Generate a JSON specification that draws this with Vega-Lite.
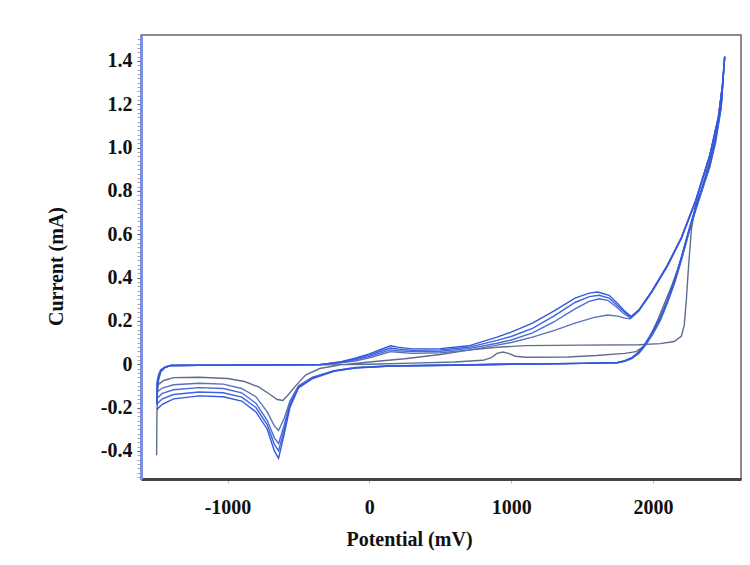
{
"$schema":"https://vega.github.io/schema/vega-lite/v6.json",
"width":600,"height":444,
"autosize":{"type":"none"},
"padding":{"left":141,"top":35,"right":9,"bottom":86},
"background":"white",
"config":{"view":{"stroke":"#666","strokeWidth":1.5},"font":"Liberation Serif"},
"data":{"values":[
{"c":"1","v":-1500,"i":-0.42},{"c":"1","v":-1498,"i":-0.25},{"c":"1","v":-1494,"i":-0.13},{"c":"1","v":-1485,"i":-0.07},{"c":"1","v":-1470,"i":-0.035},{"c":"1","v":-1440,"i":-0.015},{"c":"1","v":-1400,"i":-0.006},{"c":"1","v":-1000,"i":-0.004},{"c":"1","v":-600,"i":-0.004},{"c":"1","v":-300,"i":-0.003},{"c":"1","v":0,"i":0.0},{"c":"1","v":300,"i":0.005},{"c":"1","v":600,"i":0.01},{"c":"1","v":800,"i":0.018},{"c":"1","v":860,"i":0.03},{"c":"1","v":900,"i":0.05},{"c":"1","v":940,"i":0.056},{"c":"1","v":980,"i":0.05},{"c":"1","v":1030,"i":0.037},{"c":"1","v":1100,"i":0.032},{"c":"1","v":1400,"i":0.033},{"c":"1","v":1600,"i":0.04},{"c":"1","v":1800,"i":0.05},{"c":"1","v":1880,"i":0.058},{"c":"1","v":1930,"i":0.08},{"c":"1","v":1980,"i":0.13},{"c":"1","v":2030,"i":0.2},{"c":"1","v":2080,"i":0.28},{"c":"1","v":2130,"i":0.36},{"c":"1","v":2180,"i":0.45},{"c":"1","v":2230,"i":0.56},{"c":"1","v":2280,"i":0.67},{"c":"1","v":2330,"i":0.78},{"c":"1","v":2380,"i":0.89},{"c":"1","v":2430,"i":1.01},{"c":"1","v":2465,"i":1.15},{"c":"1","v":2490,"i":1.3},{"c":"1","v":2505,"i":1.42},
{"c":"1","v":2480,"i":1.2},{"c":"1","v":2440,"i":1.04},{"c":"1","v":2390,"i":0.92},{"c":"1","v":2340,"i":0.8},{"c":"1","v":2300,"i":0.74},{"c":"1","v":2270,"i":0.62},{"c":"1","v":2250,"i":0.45},{"c":"1","v":2235,"i":0.3},{"c":"1","v":2220,"i":0.18},{"c":"1","v":2200,"i":0.13},{"c":"1","v":2150,"i":0.105},{"c":"1","v":2050,"i":0.095},{"c":"1","v":1900,"i":0.09},{"c":"1","v":1500,"i":0.088},{"c":"1","v":1100,"i":0.086},{"c":"1","v":900,"i":0.078},{"c":"1","v":700,"i":0.065},{"c":"1","v":500,"i":0.045},{"c":"1","v":250,"i":0.025},{"c":"1","v":0,"i":0.01},{"c":"1","v":-200,"i":-0.003},{"c":"1","v":-350,"i":-0.02},{"c":"1","v":-450,"i":-0.05},{"c":"1","v":-520,"i":-0.1},{"c":"1","v":-570,"i":-0.14},{"c":"1","v":-610,"i":-0.167},{"c":"1","v":-650,"i":-0.163},{"c":"1","v":-700,"i":-0.14},{"c":"1","v":-780,"i":-0.105},{"c":"1","v":-880,"i":-0.08},{"c":"1","v":-1000,"i":-0.066},{"c":"1","v":-1200,"i":-0.06},{"c":"1","v":-1380,"i":-0.062},{"c":"1","v":-1450,"i":-0.075},{"c":"1","v":-1500,"i":-0.1},
{"c":"2","v":-1500,"i":-0.1},{"c":"2","v":-1494,"i":-0.07},{"c":"2","v":-1485,"i":-0.045},{"c":"2","v":-1470,"i":-0.025},{"c":"2","v":-1440,"i":-0.012},{"c":"2","v":-1400,"i":-0.006},{"c":"2","v":-1000,"i":-0.004},{"c":"2","v":-600,"i":-0.003},{"c":"2","v":-350,"i":-0.002},{"c":"2","v":-200,"i":0.006},{"c":"2","v":-100,"i":0.015},{"c":"2","v":0,"i":0.03},{"c":"2","v":80,"i":0.045},{"c":"2","v":150,"i":0.058},{"c":"2","v":200,"i":0.055},{"c":"2","v":300,"i":0.05},{"c":"2","v":500,"i":0.053},{"c":"2","v":700,"i":0.065},{"c":"2","v":900,"i":0.088},{"c":"2","v":1000,"i":0.1},{"c":"2","v":1150,"i":0.125},{"c":"2","v":1300,"i":0.155},{"c":"2","v":1450,"i":0.19},{"c":"2","v":1580,"i":0.215},{"c":"2","v":1680,"i":0.227},{"c":"2","v":1750,"i":0.222},{"c":"2","v":1800,"i":0.213},{"c":"2","v":1840,"i":0.21},{"c":"2","v":1900,"i":0.245},{"c":"2","v":1990,"i":0.33},{"c":"2","v":2100,"i":0.45},{"c":"2","v":2200,"i":0.58},{"c":"2","v":2300,"i":0.75},{"c":"2","v":2400,"i":0.96},{"c":"2","v":2460,"i":1.13},{"c":"2","v":2490,"i":1.28},{"c":"2","v":2505,"i":1.42},
{"c":"2","v":2480,"i":1.18},{"c":"2","v":2440,"i":1.02},{"c":"2","v":2400,"i":0.91},{"c":"2","v":2300,"i":0.71},{"c":"2","v":2250,"i":0.6},{"c":"2","v":2200,"i":0.48},{"c":"2","v":2150,"i":0.37},{"c":"2","v":2100,"i":0.28},{"c":"2","v":2050,"i":0.2},{"c":"2","v":2000,"i":0.14},{"c":"2","v":1950,"i":0.09},{"c":"2","v":1900,"i":0.05},{"c":"2","v":1850,"i":0.026},{"c":"2","v":1800,"i":0.013},{"c":"2","v":1750,"i":0.007},{"c":"2","v":1500,"i":0.004},{"c":"2","v":1000,"i":0.001},{"c":"2","v":500,"i":-0.004},{"c":"2","v":150,"i":-0.007},{"c":"2","v":-100,"i":-0.015},{"c":"2","v":-250,"i":-0.03},{"c":"2","v":-400,"i":-0.06},{"c":"2","v":-500,"i":-0.1},{"c":"2","v":-560,"i":-0.17},{"c":"2","v":-600,"i":-0.25},{"c":"2","v":-640,"i":-0.306},{"c":"2","v":-670,"i":-0.285},{"c":"2","v":-720,"i":-0.22},{"c":"2","v":-800,"i":-0.15},{"c":"2","v":-900,"i":-0.112},{"c":"2","v":-1030,"i":-0.092},{"c":"2","v":-1200,"i":-0.088},{"c":"2","v":-1380,"i":-0.095},{"c":"2","v":-1460,"i":-0.11},{"c":"2","v":-1500,"i":-0.13},
{"c":"3","v":-1500,"i":-0.13},{"c":"3","v":-1494,"i":-0.08},{"c":"3","v":-1485,"i":-0.05},{"c":"3","v":-1470,"i":-0.027},{"c":"3","v":-1440,"i":-0.013},{"c":"3","v":-1400,"i":-0.006},{"c":"3","v":-1000,"i":-0.004},{"c":"3","v":-600,"i":-0.003},{"c":"3","v":-350,"i":-0.002},{"c":"3","v":-200,"i":0.008},{"c":"3","v":-100,"i":0.02},{"c":"3","v":0,"i":0.036},{"c":"3","v":80,"i":0.052},{"c":"3","v":150,"i":0.066},{"c":"3","v":200,"i":0.062},{"c":"3","v":300,"i":0.058},{"c":"3","v":500,"i":0.06},{"c":"3","v":700,"i":0.072},{"c":"3","v":900,"i":0.097},{"c":"3","v":1000,"i":0.112},{"c":"3","v":1150,"i":0.145},{"c":"3","v":1300,"i":0.195},{"c":"3","v":1450,"i":0.255},{"c":"3","v":1550,"i":0.29},{"c":"3","v":1620,"i":0.302},{"c":"3","v":1680,"i":0.295},{"c":"3","v":1740,"i":0.265},{"c":"3","v":1790,"i":0.235},{"c":"3","v":1840,"i":0.215},{"c":"3","v":1900,"i":0.25},{"c":"3","v":1990,"i":0.335},{"c":"3","v":2100,"i":0.455},{"c":"3","v":2200,"i":0.585},{"c":"3","v":2300,"i":0.755},{"c":"3","v":2400,"i":0.965},{"c":"3","v":2460,"i":1.14},{"c":"3","v":2490,"i":1.29},{"c":"3","v":2505,"i":1.42},
{"c":"3","v":2480,"i":1.19},{"c":"3","v":2440,"i":1.03},{"c":"3","v":2400,"i":0.915},{"c":"3","v":2300,"i":0.715},{"c":"3","v":2250,"i":0.605},{"c":"3","v":2200,"i":0.485},{"c":"3","v":2150,"i":0.375},{"c":"3","v":2100,"i":0.285},{"c":"3","v":2050,"i":0.205},{"c":"3","v":2000,"i":0.145},{"c":"3","v":1950,"i":0.094},{"c":"3","v":1900,"i":0.053},{"c":"3","v":1850,"i":0.028},{"c":"3","v":1800,"i":0.014},{"c":"3","v":1750,"i":0.007},{"c":"3","v":1500,"i":0.004},{"c":"3","v":1000,"i":0.0},{"c":"3","v":500,"i":-0.005},{"c":"3","v":150,"i":-0.008},{"c":"3","v":-100,"i":-0.016},{"c":"3","v":-250,"i":-0.031},{"c":"3","v":-400,"i":-0.062},{"c":"3","v":-500,"i":-0.105},{"c":"3","v":-560,"i":-0.18},{"c":"3","v":-600,"i":-0.28},{"c":"3","v":-640,"i":-0.366},{"c":"3","v":-670,"i":-0.34},{"c":"3","v":-720,"i":-0.26},{"c":"3","v":-800,"i":-0.18},{"c":"3","v":-900,"i":-0.132},{"c":"3","v":-1030,"i":-0.112},{"c":"3","v":-1200,"i":-0.108},{"c":"3","v":-1380,"i":-0.118},{"c":"3","v":-1460,"i":-0.135},{"c":"3","v":-1500,"i":-0.16},
{"c":"4","v":-1500,"i":-0.16},{"c":"4","v":-1494,"i":-0.09},{"c":"4","v":-1485,"i":-0.055},{"c":"4","v":-1470,"i":-0.03},{"c":"4","v":-1440,"i":-0.014},{"c":"4","v":-1400,"i":-0.006},{"c":"4","v":-1000,"i":-0.004},{"c":"4","v":-600,"i":-0.003},{"c":"4","v":-350,"i":-0.002},{"c":"4","v":-200,"i":0.01},{"c":"4","v":-100,"i":0.024},{"c":"4","v":0,"i":0.042},{"c":"4","v":80,"i":0.06},{"c":"4","v":150,"i":0.075},{"c":"4","v":200,"i":0.07},{"c":"4","v":300,"i":0.064},{"c":"4","v":500,"i":0.066},{"c":"4","v":700,"i":0.078},{"c":"4","v":900,"i":0.11},{"c":"4","v":1000,"i":0.128},{"c":"4","v":1150,"i":0.165},{"c":"4","v":1300,"i":0.222},{"c":"4","v":1450,"i":0.285},{"c":"4","v":1550,"i":0.312},{"c":"4","v":1620,"i":0.318},{"c":"4","v":1690,"i":0.305},{"c":"4","v":1750,"i":0.27},{"c":"4","v":1800,"i":0.24},{"c":"4","v":1845,"i":0.218},{"c":"4","v":1900,"i":0.25},{"c":"4","v":1990,"i":0.335},{"c":"4","v":2100,"i":0.455},{"c":"4","v":2200,"i":0.585},{"c":"4","v":2300,"i":0.755},{"c":"4","v":2400,"i":0.965},{"c":"4","v":2460,"i":1.14},{"c":"4","v":2490,"i":1.29},{"c":"4","v":2505,"i":1.42},
{"c":"4","v":2480,"i":1.19},{"c":"4","v":2440,"i":1.035},{"c":"4","v":2400,"i":0.92},{"c":"4","v":2300,"i":0.72},{"c":"4","v":2250,"i":0.61},{"c":"4","v":2200,"i":0.49},{"c":"4","v":2150,"i":0.38},{"c":"4","v":2100,"i":0.29},{"c":"4","v":2050,"i":0.21},{"c":"4","v":2000,"i":0.15},{"c":"4","v":1950,"i":0.097},{"c":"4","v":1900,"i":0.055},{"c":"4","v":1850,"i":0.029},{"c":"4","v":1800,"i":0.015},{"c":"4","v":1750,"i":0.008},{"c":"4","v":1500,"i":0.004},{"c":"4","v":1000,"i":0.0},{"c":"4","v":500,"i":-0.005},{"c":"4","v":150,"i":-0.008},{"c":"4","v":-100,"i":-0.017},{"c":"4","v":-250,"i":-0.032},{"c":"4","v":-400,"i":-0.064},{"c":"4","v":-500,"i":-0.108},{"c":"4","v":-560,"i":-0.19},{"c":"4","v":-600,"i":-0.3},{"c":"4","v":-640,"i":-0.4},{"c":"4","v":-670,"i":-0.37},{"c":"4","v":-720,"i":-0.28},{"c":"4","v":-800,"i":-0.2},{"c":"4","v":-900,"i":-0.152},{"c":"4","v":-1030,"i":-0.132},{"c":"4","v":-1200,"i":-0.128},{"c":"4","v":-1380,"i":-0.14},{"c":"4","v":-1460,"i":-0.16},{"c":"4","v":-1500,"i":-0.185},
{"c":"5","v":-1500,"i":-0.185},{"c":"5","v":-1494,"i":-0.1},{"c":"5","v":-1485,"i":-0.06},{"c":"5","v":-1470,"i":-0.032},{"c":"5","v":-1440,"i":-0.015},{"c":"5","v":-1400,"i":-0.006},{"c":"5","v":-1000,"i":-0.004},{"c":"5","v":-600,"i":-0.003},{"c":"5","v":-350,"i":-0.002},{"c":"5","v":-200,"i":0.012},{"c":"5","v":-100,"i":0.028},{"c":"5","v":0,"i":0.048},{"c":"5","v":80,"i":0.068},{"c":"5","v":150,"i":0.085},{"c":"5","v":200,"i":0.079},{"c":"5","v":300,"i":0.071},{"c":"5","v":500,"i":0.072},{"c":"5","v":700,"i":0.085},{"c":"5","v":900,"i":0.125},{"c":"5","v":1000,"i":0.148},{"c":"5","v":1150,"i":0.19},{"c":"5","v":1300,"i":0.245},{"c":"5","v":1450,"i":0.305},{"c":"5","v":1550,"i":0.328},{"c":"5","v":1610,"i":0.333},{"c":"5","v":1690,"i":0.318},{"c":"5","v":1750,"i":0.28},{"c":"5","v":1800,"i":0.245},{"c":"5","v":1845,"i":0.22},{"c":"5","v":1900,"i":0.25},{"c":"5","v":1990,"i":0.335},{"c":"5","v":2100,"i":0.455},{"c":"5","v":2200,"i":0.585},{"c":"5","v":2300,"i":0.755},{"c":"5","v":2400,"i":0.965},{"c":"5","v":2460,"i":1.14},{"c":"5","v":2490,"i":1.29},{"c":"5","v":2505,"i":1.42},
{"c":"5","v":2480,"i":1.2},{"c":"5","v":2440,"i":1.04},{"c":"5","v":2400,"i":0.925},{"c":"5","v":2300,"i":0.725},{"c":"5","v":2250,"i":0.615},{"c":"5","v":2200,"i":0.495},{"c":"5","v":2150,"i":0.385},{"c":"5","v":2100,"i":0.295},{"c":"5","v":2050,"i":0.215},{"c":"5","v":2000,"i":0.155},{"c":"5","v":1950,"i":0.1},{"c":"5","v":1900,"i":0.057},{"c":"5","v":1850,"i":0.03},{"c":"5","v":1800,"i":0.016},{"c":"5","v":1750,"i":0.008},{"c":"5","v":1500,"i":0.004},{"c":"5","v":1000,"i":0.0},{"c":"5","v":500,"i":-0.006},{"c":"5","v":150,"i":-0.009},{"c":"5","v":-100,"i":-0.018},{"c":"5","v":-250,"i":-0.033},{"c":"5","v":-400,"i":-0.066},{"c":"5","v":-500,"i":-0.11},{"c":"5","v":-560,"i":-0.2},{"c":"5","v":-600,"i":-0.32},{"c":"5","v":-640,"i":-0.435},{"c":"5","v":-670,"i":-0.4},{"c":"5","v":-720,"i":-0.3},{"c":"5","v":-800,"i":-0.22},{"c":"5","v":-900,"i":-0.17},{"c":"5","v":-1030,"i":-0.15},{"c":"5","v":-1200,"i":-0.146},{"c":"5","v":-1380,"i":-0.16},{"c":"5","v":-1460,"i":-0.185},{"c":"5","v":-1500,"i":-0.21}
]},
"mark":{"type":"line","strokeWidth":1.4,"clip":true},
"encoding":{
"x":{"field":"v","type":"quantitative","scale":{"domain":[-1610,2620],"nice":false,"zero":false},
"axis":{"title":"Potential (mV)","values":[-1000,0,1000,2000],"labelExpr":"toString(datum.value)","grid":false,"domainColor":"#444","domainWidth":3,"tickColor":"#bbb","tickSize":4,"labelFont":"Liberation Serif","labelFontWeight":"bold","labelFontSize":20,"labelColor":"#111","labelPadding":14,"titleFont":"Liberation Serif","titleFontWeight":"bold","titleFontSize":20,"titleColor":"#111","titleX":268,"titleY":66,"titleBaseline":"alphabetic","titleAlign":"center"}},
"y":{"field":"i","type":"quantitative","scale":{"domain":[-0.53,1.52],"nice":false,"zero":false},
"axis":{"title":"Current (mA)","values":[-0.52,-0.5,-0.48,-0.46,-0.44,-0.42,-0.4,-0.38,-0.36,-0.34,-0.32,-0.3,-0.28,-0.26,-0.24,-0.22,-0.2,-0.18,-0.16,-0.14,-0.12,-0.1,-0.08,-0.06,-0.04,-0.02,0,0.02,0.04,0.06,0.08,0.1,0.12,0.14,0.16,0.18,0.2,0.22,0.24,0.26,0.28,0.3,0.32,0.34,0.36,0.38,0.4,0.42,0.44,0.46,0.48,0.5,0.52,0.54,0.56,0.58,0.6,0.62,0.64,0.66,0.68,0.7,0.72,0.74,0.76,0.78,0.8,0.82,0.84,0.86,0.88,0.9,0.92,0.94,0.96,0.98,1,1.02,1.04,1.06,1.08,1.1,1.12,1.14,1.16,1.18,1.2,1.22,1.24,1.26,1.28,1.3,1.32,1.34,1.36,1.38,1.4,1.42,1.44,1.46,1.48,1.5],
"labelExpr":"abs(datum.value*5-round(datum.value*5))<0.001 ? (abs(datum.value)<0.001 ? '0' : replace(format(datum.value,'.1f'),'\u2212','-')) : ''",
"labelOverlap":false,"grid":false,"domainColor":"#7d8fe2","domainWidth":3,"tickSize":4,
"tickColor":{"condition":{"test":"abs(datum.value*5-round(datum.value*5))<0.001","value":"#555"},"value":"#a8a8a8"},
"labelFont":"Liberation Serif","labelFontWeight":"bold","labelFontSize":20,"labelColor":"#111","labelPadding":5,
"titleFont":"Liberation Serif","titleFontWeight":"bold","titleFontSize":20,"titleColor":"#111","titleAngle":-90,"titleX":-85,"titleY":231,"titleBaseline":"middle","titleAlign":"center"}},
"color":{"field":"c","type":"nominal","legend":null,"scale":{"domain":["1","2","3","4","5"],"range":["#5d6d8e","#5a72b8","#4a6ad8","#3d63dd","#3358e0"]}},
"order":{"value":null}
}
}
